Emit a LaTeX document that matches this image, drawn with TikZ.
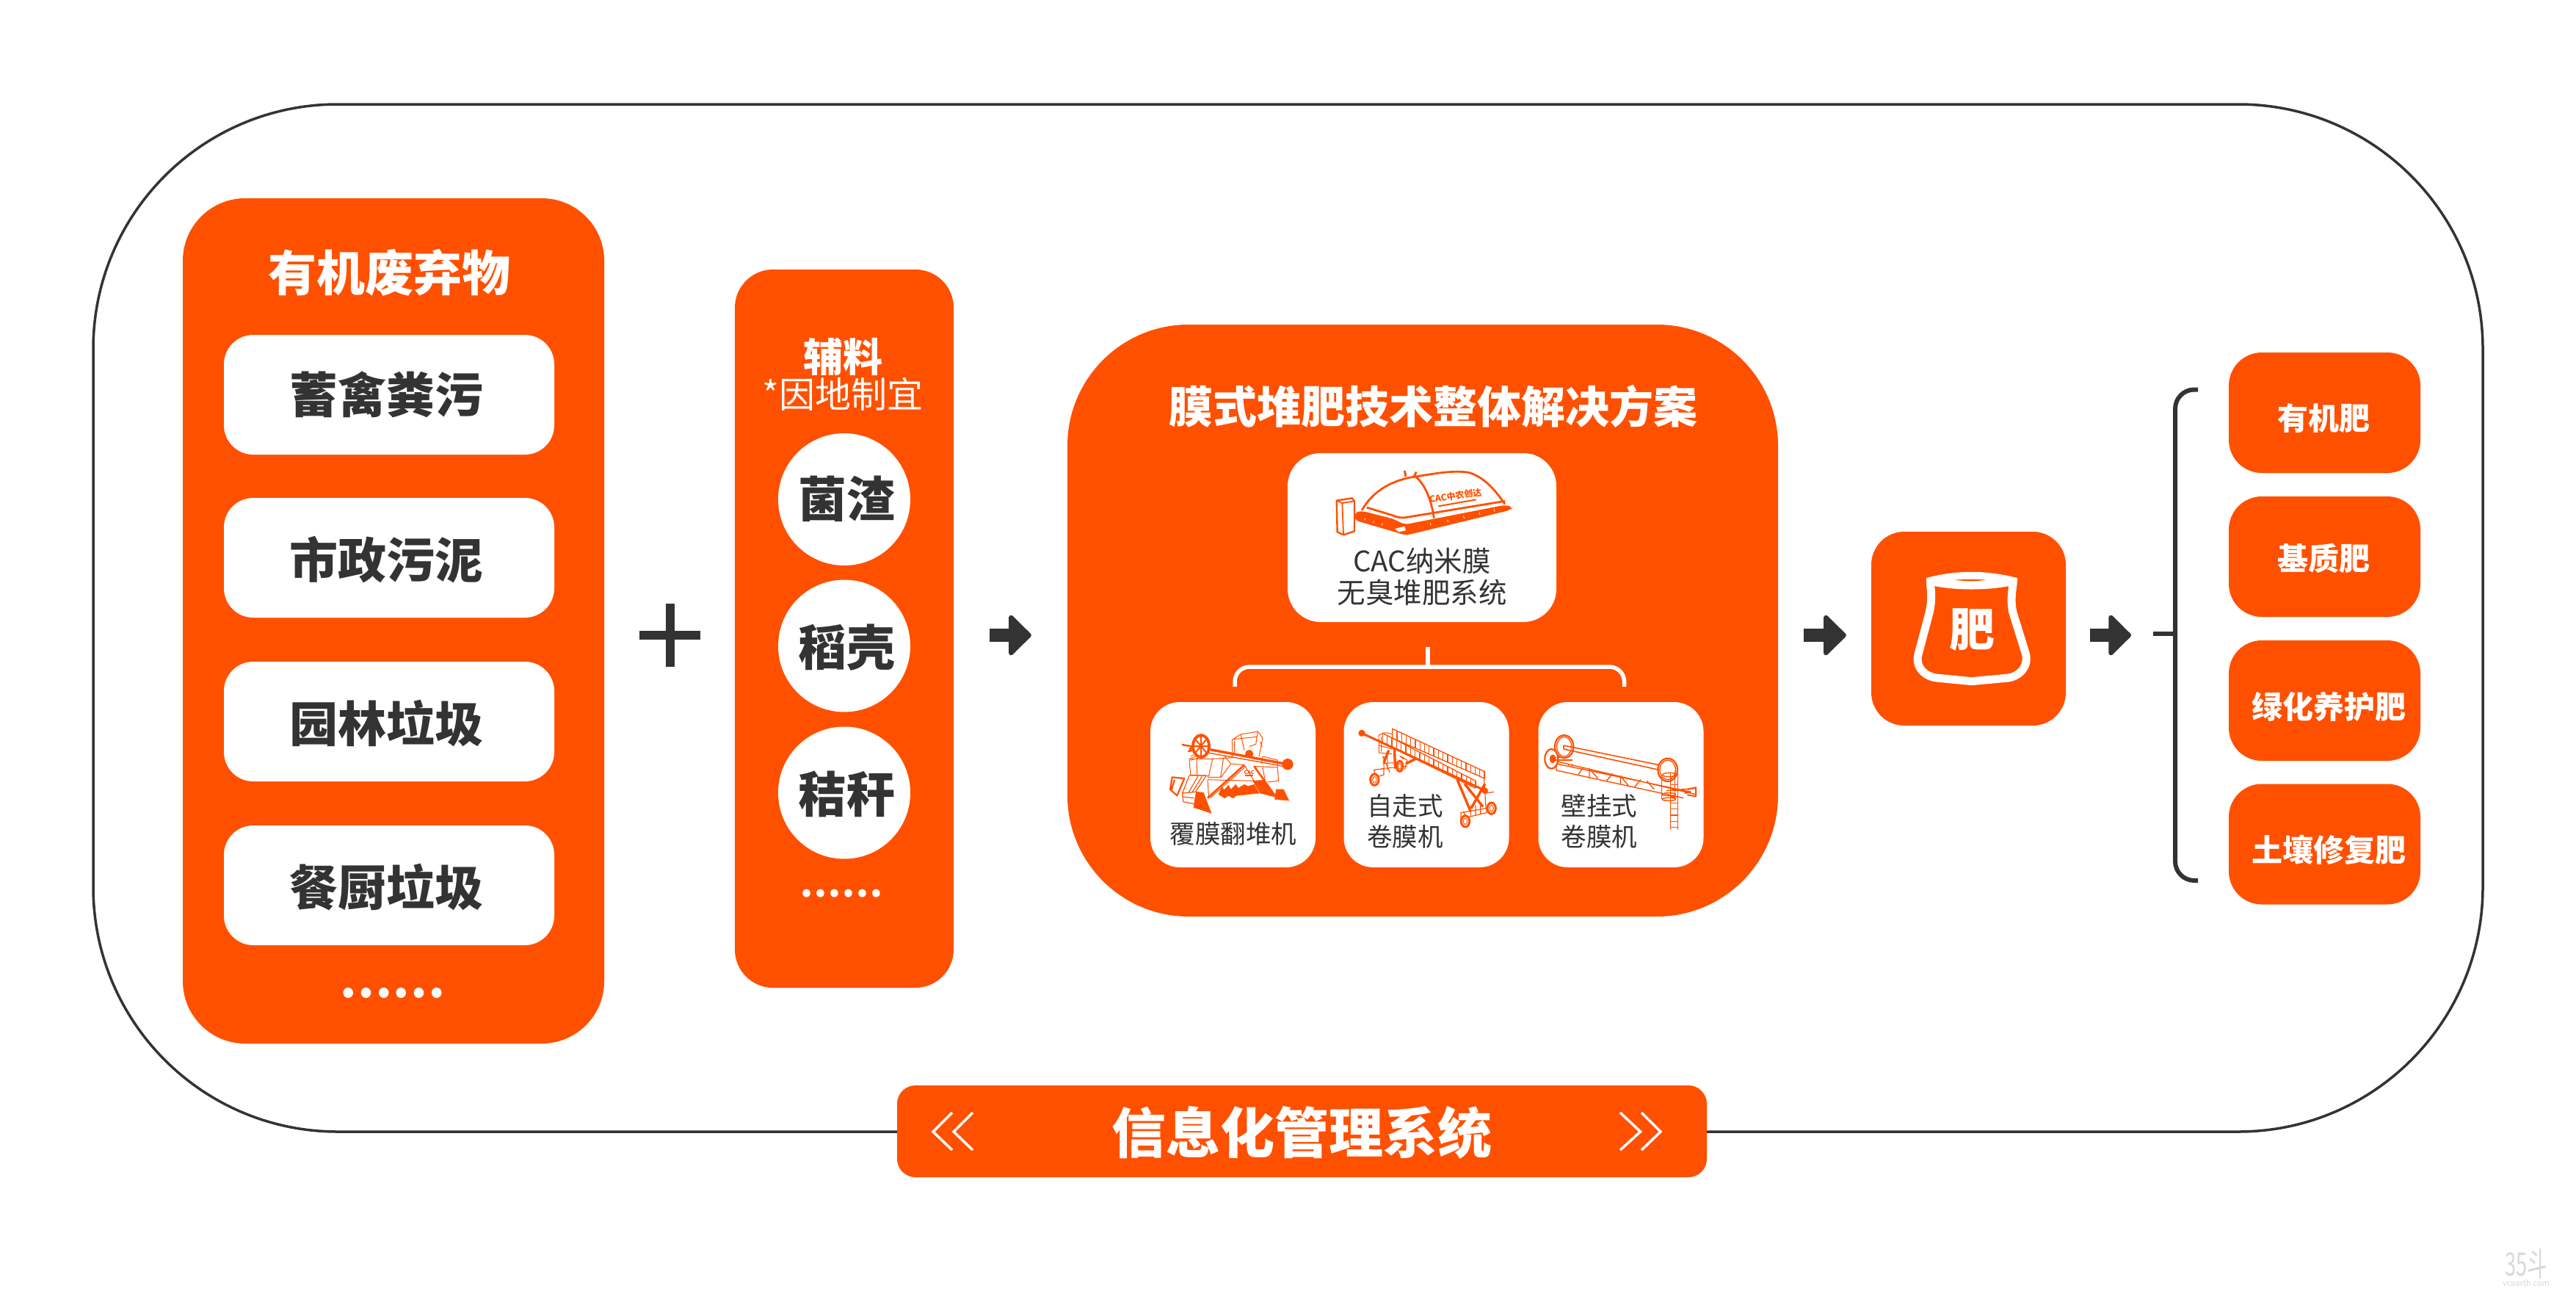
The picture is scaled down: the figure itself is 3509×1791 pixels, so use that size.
\documentclass[tikz,border=0pt]{standalone}
\usepackage{fontspec}
\setmainfont{Noto Sans CJK SC}
\definecolor{fireorange}{HTML}{FF5000}
\definecolor{inkgray}{HTML}{333333}
\definecolor{markgray}{HTML}{D9D9D9}
\newcommand{\fsz}[1]{\fontsize{#1}{#1}\selectfont}
\tikzset{
  panel/.style={fill=fireorange, inner sep=0pt, text=white},
  itembox/.style={panel, rounded corners=40pt, fill=white, minimum width=450pt, minimum height=163pt},
  itemlabel/.style={inner sep=0pt, text=inkgray, font=\fsz{66}\bfseries},
  auxball/.style={circle, fill=white, inner sep=0pt, minimum size=180pt},
  machinebox/.style={panel, rounded corners=40pt, fill=white, minimum width=225pt, minimum height=225pt},
  machinelabel/.style={inner sep=0pt, text=inkgray, align=center, font=\fontsize{34.5}{42}\selectfont},
  fertbox/.style={panel, rounded corners=45pt, minimum width=261pt, minimum height=164pt},
  fertlabel/.style={inner sep=0pt, text=white, font=\fsz{42}\bfseries},
  flowarrow/.style={inkgray, line width=18pt, -{Triangle[length=32pt, width=62pt, line width=6pt, round, sep=0pt]}},
  whiteline/.style={draw=white, line width=5.5pt},
  inkline/.style={draw=inkgray, line width=6pt},
  artline/.style={draw=fireorange, line width=1pt, line join=round},
  artfill/.style={fill=fireorange, draw=fireorange, line width=.6pt, line join=round},
}
\usetikzlibrary{arrows.meta}
\begin{document}
\begin{tikzpicture}[x=1pt, y=-1pt]
  \useasboundingbox (0,0) rectangle (3509,1791);
  \fill[white] (0,0) rectangle (3509,1791);
  \draw[draw=inkgray, line width=3.5pt, rounded corners=333pt] (127,142) rectangle (3382,1541);

  \node[panel, rounded corners=85pt, minimum width=574pt, minimum height=1151pt] (waste) at (536,845.5) {};
  \node[inner sep=0pt, text=white, font=\fsz{66}\bfseries] (wastetitle) at (530,371) {有机废弃物};
  \node[itembox] (manure) at (530,537.5) {};
  \node[itembox] (sludge) at (530,759.5) {};
  \node[itembox] (garden) at (530,982.5) {};
  \node[itembox] (kitchen) at (530,1205.5) {};
  \node[itemlabel] (manuretext) at (526,537.5) {蓄禽粪污};
  \node[itemlabel] (sludgetext) at (526,762) {市政污泥};
  \node[itemlabel] (gardentext) at (526,985) {园林垃圾};
  \node[itemlabel] (kitchentext) at (526,1208) {餐厨垃圾};
  \node[inner sep=0pt, text=white, font=\fsz{64}\bfseries] (wastedots) at (534,1352) {……};

  \node[inner sep=0pt] (plus) at (912.5,865) {};
  \draw[draw=inkgray, line width=12pt] (871,865) -- (954,865) (912.5,822) -- (912.5,908);

  \node[panel, rounded corners=52pt, minimum width=298pt, minimum height=978pt] (aux) at (1150,856) {};
  \node[inner sep=0pt, text=white, font=\fsz{54}\bfseries] (auxtitle) at (1148,486) {辅料};
  \node[inner sep=0pt, text=white, font=\fsz{49}] (auxnote) at (1148,537) {*因地制宜};
  \node[auxball] (mushroom) at (1150,680) {};
  \node[auxball] (husk) at (1150,879.5) {};
  \node[auxball] (straw) at (1150,1079.5) {};
  \node[itemlabel] (mushroomtext) at (1153,679) {菌渣};
  \node[itemlabel] (husktext) at (1153,882) {稻壳};
  \node[itemlabel] (strawtext) at (1153,1081) {秸秆};
  \node[inner sep=0pt, text=white, font=\fsz{50}\bfseries] (auxdots) at (1146,1217) {……};

  \node[panel, rounded corners=165pt, minimum width=968pt, minimum height=806pt] (solution) at (1938,845) {};
  \node[inner sep=0pt, text=white, font=\fsz{60}\bfseries] (solutiontitle) at (1952,553) {膜式堆肥技术整体解决方案};
  \node[panel, rounded corners=45pt, fill=white, minimum width=366pt, minimum height=230pt] (cacbox) at (1937,732) {};
  \node[machinelabel, font=\fontsize{38.5}{43}\selectfont] (cactext) at (1937,785) {CAC纳米膜\\无臭堆肥系统};
  \node[machinebox] (turner) at (1679.5,1068.5) {};
  \node[machinebox] (selfroller) at (1943,1068.5) {};
  \node[machinebox] (wallroller) at (2208,1068.5) {};
  \node[machinelabel] (turnertext) at (1680,1135) {覆膜翻堆机};
  \node[machinelabel] (selftext) at (1914,1118) {自走式\\卷膜机};
  \node[machinelabel] (walltext) at (2178.5,1118) {壁挂式\\卷膜机};

  \coordinate (stemtop) at (1945,881);
  \coordinate (stembot) at (1945,908);
  \coordinate (forkl) at (1682,935);
  \coordinate (forkr) at (2212.5,935);
  \draw[whiteline] (stemtop) -- (stembot);
  \draw[whiteline, rounded corners=20pt] (forkl) |- (stembot) -| (forkr);

  \node[panel, rounded corners=45pt, minimum width=265pt, minimum height=264pt] (bag) at (2681.5,856) {};
  \draw[draw=white, line width=11pt] (2629.3,793) .. controls (2632,815) and (2630,825) .. (2628.3,833.3) -- (2613.3,890) .. controls (2608,908) and (2622,922) .. (2640,923.3) -- (2686,927.7) -- (2733.3,923.3) .. controls (2750,922) and (2764,908) .. (2759.3,890) -- (2741.7,833.3) .. controls (2740,825) and (2739,815) .. (2742.3,793);
  \fill[white, line join=round] (2624,787) .. controls (2665,776) and (2705,776) .. (2748,787) -- (2748,793) -- (2736.7,798) .. controls (2705,804) and (2665,804) .. (2635,798) -- (2624,793) -- cycle;
  \fill[fireorange] (2663,789.5) .. controls (2680,792) and (2690,792) .. (2705,789.5) .. controls (2690,788.5) and (2680,788.5) .. (2663,789.5);
  \node[inner sep=0pt, text=white, font=\fsz{62}\bfseries] (bagtext) at (2686,858) {肥};

  \coordinate (flowline) at (0,865);
  \coordinate (brace) at (2963,865);
  \draw[flowarrow, shorten <=49pt, shorten >=49pt] (aux.east |- flowline) -- (solution.west |- flowline);
  \draw[flowarrow, shorten <=35pt, shorten >=34pt] (solution.east |- flowline) -- (bag.west |- flowline);
  \draw[flowarrow, shorten <=33pt, shorten >=60pt] (bag.east |- flowline) -- (brace);

  \node[fertbox] (organic) at (3166.5,562) {};
  \node[fertbox] (substrate) at (3166.5,758) {};
  \node[fertbox] (greening) at (3166.5,954) {};
  \node[fertbox] (soilfix) at (3166.5,1149.5) {};
  \node[fertlabel] (organictext) at (3165,570) {有机肥};
  \node[fertlabel] (substratetext) at (3165,760) {基质肥};
  \node[fertlabel] (greeningtext) at (3172,962) {绿化养护肥};
  \node[fertlabel] (soilfixtext) at (3172,1157.5) {土壤修复肥};

  \coordinate (bracetopend) at (2994,530.5);
  \coordinate (bracebotend) at (2994,1199);
  \coordinate (bracetail) at (2933,862.5);
  \draw[inkline, rounded corners=26pt] (bracetopend) -| (2963,1199) -- (bracebotend);
  \draw[inkline] (bracetail) -- (2963,862.5);

  \node[panel, rounded corners=25pt, minimum width=1103pt, minimum height=125pt] (infobar) at (1773.5,1540.5) {};
  \node[inner sep=0pt, text=white, font=\fsz{74}\bfseries] (infotext) at (1773,1542) {信息化管理系统};
  \draw[draw=white, line width=3.5pt] (1297,1515) -- (1271,1541) -- (1297,1566) (1325,1515) -- (1299,1541) -- (1325,1566);
  \draw[draw=white, line width=3.5pt] (2207,1515) -- (2234.5,1541) -- (2207,1566) (2236,1515) -- (2262,1541) -- (2236,1566);

  \node[inner sep=0pt, xscale=.62, text=markgray, font=\fsz{44}] (markbig) at (3441,1721) {35斗};
  \node[inner sep=0pt, text=markgray, font=\fsz{11}] (marksmall) at (3441,1747) {vcearth.com};

  \begin{scope}[shift={(1800,625)}, scale=1/3]
    \fill[fireorange, rounded corners=6pt] (135,218) -- (165,212) -- (295,245) -- (340,268) -- (750,188) -- (782,195) -- (775,208) -- (345,312) -- (300,298) -- (135,250) -- cycle;
    \fill[white] (300,285) -- (340,275) -- (345,292) -- (315,298) -- cycle;
    \draw[draw=white, line width=.7pt] (180,240) -- (176,250) (215,252) -- (210,262) (250,262) -- (246,272) (445,262) -- (448,272) (515,248) -- (518,258) (580,232) -- (584,242) (645,218) -- (648,228) (705,205) -- (708,215);
    \draw[artline, line width=2.8pt] (165,210) .. controls (210,130) and (290,85) .. (385,72) .. controls (460,60) and (540,45) .. (600,55) .. controls (660,70) and (710,125) .. (750,185);
    \draw[artline, line width=2.8pt] (185,198) -- (290,230) .. controls (315,240) and (330,242) .. (350,238) -- (750,172);
    \draw[artline, line width=2.8pt] (385,72) .. controls (425,105) and (450,170) .. (460,242);
    \draw[artline, line width=3pt] (340,48) -- (345,72) (388,53) -- (376,76);
    \draw[artline, line width=2.4pt, fill=white] (62,170) -- (125,160) -- (135,172) -- (135,295) -- (90,310) -- (65,298) -- cycle;
    \draw[artline, line width=1.8pt] (62,170) -- (85,180) -- (135,172) (85,180) -- (90,310);
    \node[inner sep=0pt, rotate=8, text=fireorange, font=\fsz{12}\bfseries] (domelogo) at (548,150) {CAC中农创达};
    \draw[artline, line width=2pt] (478,193) -- (632,166);
  \end{scope}

  \begin{scope}[shift={(1580,980)}, scale=1/3]
    \draw[artline] (120,160) -- (125,225) -- (200,230) -- (215,160) -- cycle (150,160) -- (152,228) (290,180) -- (250,235) -- (195,235) (290,180) -- (345,185) -- (385,250) -- (195,245) (385,190) -- (480,195) -- (485,250) -- (440,255) (265,150) -- (290,180) (260,155) -- (248,235) (215,160) -- (305,155) (420,150) -- (480,165) -- (480,195) (415,180) -- (420,150) (195,245) -- (200,322) (420,195) -- (430,250);
    \draw[artline] (295,82) -- (330,60) -- (400,48) -- (420,75) -- (405,150) (295,82) -- (297,150) (305,85) -- (305,145) (330,60) -- (345,125) (400,48) -- (392,100) -- (365,110) (300,80) -- (395,70) (410,90) -- (418,110);
    \draw[artline, line width=3.4pt] (205,122) -- (510,180);
    \draw[artline, line width=1.4pt] (195,135) -- (505,190);
    \draw[artline, line width=2.4pt] (115,130) -- (165,115) (90,102) -- (135,110) -- (120,122);
    \draw[artline, line width=.8pt] (125,150) -- (150,140) (125,158) -- (158,145) (125,166) -- (170,152);
    \draw[artline, line width=3.8pt, fill=white] (168,108) ellipse (33pt and 45pt);
    \draw[artline, line width=2pt] (168,65) -- (168,150) (138,108) -- (198,108) (145,80) -- (190,135) (190,80) -- (145,135);
    \fill[fireorange] (522,182) circle (23pt) (365,140) circle (17pt);
    \draw[artline, line width=2.2pt] (50,235) -- (100,240) -- (70,310) -- (42,285) -- cycle (60,245) -- (48,285);
    \draw[artline, line width=1.2pt] (120,228) -- (190,228) -- (145,295) -- (92,300) -- cycle (92,300) -- (95,335) -- (145,345) (155,232) -- (118,296) (172,232) -- (132,296) (95,315) -- (140,320);
    \fill[artfill] (148,295) -- (178,298) -- (210,382) -- (138,358) -- cycle (380,250) -- (425,247) -- (470,315) -- (410,300) -- cycle (475,285) -- (505,285) -- (527,330) -- (470,325) -- cycle;
    \fill[artfill] (240,305) -- (255,275) -- (262,288) -- (280,268) -- (290,285) -- (310,265) -- (320,280) -- (345,265) -- (360,272) -- (385,265) -- (405,300) -- (310,310) -- (300,320) -- (280,310) -- (265,320) -- cycle;
    \draw[artline, line width=2.6pt] (195,320) -- (345,185) (385,190) -- (470,310);
    \draw[artline] (205,320) -- (352,190);
    \node[inner sep=0pt, text=fireorange, font=\fontsize{7}{7}\selectfont\bfseries] (turnerlogo) at (365,216) {CAC};
    \draw[artline, line width=2pt] (348,228) -- (382,228);
  \end{scope}

  \begin{scope}[shift={(1840,980)}, scale=1/3]
    \draw[artline, line width=1.3pt] (170,37) -- (547,212) -- (547,240) -- (170,75) -- cycle (130,55) -- (510,250) (130,95) -- (510,280);
    \foreach \t in {0,1,...,20} {
      \draw[artline, line width=1.3pt] (170+18.8*\t,37+8.75*\t) -- (170+18.8*\t,75+8.25*\t);
    }
    \foreach \t in {0,1,...,20} {
      \draw[artline, line width=1.1pt] (130+19*\t,55+9.75*\t) -- (130+19*\t,95+9.25*\t);
    }
    \draw[artline, line width=3pt] (45,55) -- (550,290);
    \fill[fireorange] (45,55) circle (14pt) (548,290) circle (13pt);
    \draw[artline] (110,70) .. controls (125,50) and (150,50) .. (170,60) (115,75) -- (115,135) -- (170,140) (130,150) -- (160,215) (115,105) -- (170,120) (130,180) -- (175,175) (125,200) -- (230,190) (125,70) -- (125,130) (135,150) -- (135,200) (150,150) -- (150,205);
    \draw[artline, line width=3.4pt] (178,115) -- (182,200) (155,125) -- (135,175) (225,180) -- (265,160);
    \draw[artline, line width=1.2pt] (95,205) -- (135,200) -- (135,225) -- (100,235) -- cycle (205,150) -- (230,165) -- (220,205) (200,148) -- (215,160);
    \draw[artline, line width=3pt, fill=white] (97,245) ellipse (17pt and 23pt);
    \draw[artline] (97,245) ellipse (8pt and 13pt);
    \draw[artline, line width=3pt, fill=white] (200,190) ellipse (13pt and 21pt);
    \draw[artline] (200,190) ellipse (6pt and 12pt);
    \draw[artline, line width=3.4pt] (435,245) -- (490,375) (465,262) -- (540,355) (548,262) -- (492,362);
    \draw[artline, line width=1.2pt] (545,240) -- (552,360) (555,300) -- (585,295) (450,380) -- (555,362) -- (555,380) -- (450,405) -- cycle (490,350) -- (490,395) (530,345) -- (530,385) (460,375) -- (470,395) (510,350) -- (510,390);
    \draw[artline, line width=3pt, fill=white] (468,415) ellipse (17pt and 23pt);
    \draw[artline] (468,415) ellipse (8pt and 13pt);
    \draw[artline, line width=3pt, fill=white] (575,362) ellipse (17pt and 23pt);
    \draw[artline] (575,362) ellipse (8pt and 13pt);
  \end{scope}

  \begin{scope}[shift={(2090,985)}, scale=1/3]
    \draw[artline, line width=1.6pt] (120,90) -- (510,170) (120,105) -- (510,190) (120,90) -- (120,105);
    \draw[artline, line width=1.4pt] (90,155) -- (660,290) (90,165) -- (640,280) (90,165) -- (90,192) -- (610,305) (540,275) -- (660,265);
    \draw[artline, line width=1.4pt] (180,210) -- (200,180) (225,185) -- (225,225) (225,185) -- (260,225) (295,235) -- (320,205) (352,215) -- (352,250) (352,215) -- (385,255) (410,260) -- (435,230) (460,235) -- (490,270);
    \draw[artline, line width=2.2pt] (122,95) ellipse (38pt and 47pt);
    \draw[artline, line width=1.3pt] (122,95) ellipse (30pt and 40pt);
    \draw[artline, line width=2.2pt] (545,190) ellipse (40pt and 47pt);
    \draw[artline, line width=1.3pt] (545,190) ellipse (32pt and 40pt);
    \draw[artline, line width=2.2pt, fill=white] (70,145) ellipse (27pt and 40pt);
    \fill[fireorange] (75,145) ellipse (12pt and 18pt);
    \draw[artline, line width=1.6pt] (85,150) -- (155,150) (85,140) -- (130,140) (140,165) -- (140,178) (155,165) -- (155,180);
    \draw[artline, line width=1.6pt] (556,205) -- (556,435) (586,205) -- (586,435) (520,215) -- (520,310) (575,195) -- (575,310);
    \foreach \r in {0,1,...,7} {
      \draw[artline, line width=1.4pt] (556,250+25*\r) -- (586,250+25*\r);
    }
    \draw[artline, line width=1.4pt] (550,290) ellipse (28pt and 6pt) (550,310) ellipse (28pt and 6pt) (552,210) ellipse (28pt and 8pt);
    \draw[artline, line width=2pt] (625,270) -- (660,262) -- (660,298) -- (625,292) (615,285) -- (640,280);
  \end{scope}
\end{tikzpicture}
\end{document}
